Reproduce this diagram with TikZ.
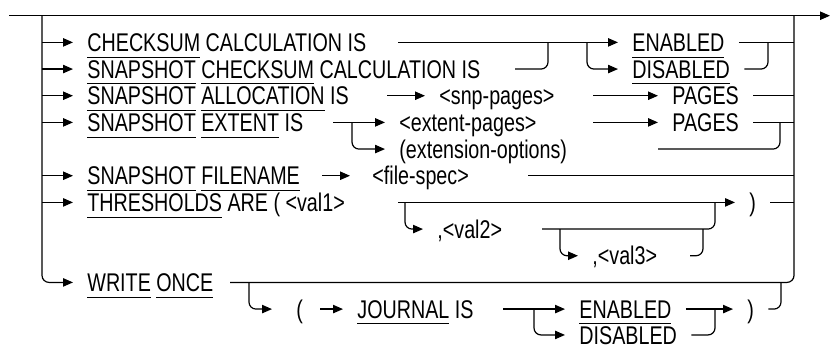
\documentclass[tikz,border=0pt]{standalone}
\usepackage{fontspec}
\setmainfont[FakeStretch=0.77]{Liberation Sans}
\usetikzlibrary{arrows.meta, positioning}
% keyword with a low underline
\newcommand{\kw}[1]{\setbox0\hbox{#1}\rlap{\rule[-3.1pt]{\wd0}{0.5pt}}\box0\relax}
\tikzset{
  tok/.style={inner xsep=7pt, inner ysep=0pt, text height=9.15pt, text depth=0pt, anchor=west},
  rail/.style={line width=0.6pt, rounded corners=3.5pt},
  >={Triangle[length=5pt,width=4.2pt]}
}

\begin{document}
\begin{tikzpicture}[x=0.5pt, y=-13.335pt, font=\fontsize{12.8}{14}\selectfont]
	\useasboundingbox (0,-0.589) rectangle (830,12.423);
	% outer line and the two verticals
	\coordinate (start) at (9,0);
	\coordinate (lv) at (42,0);
	\coordinate (rv) at (794,0);
	\coordinate (end) at (830,0);
	\draw [rail,->] (start) -- (end);

	% left column
	\node [tok] (t1) at (73,1) {\kw{CHECKSUM} CALCULATION IS};
	\node [tok] (t2) at (73,2) {\kw{SNAPSHOT} \kw{CHECKSUM} CALCULATION IS};
	\node [tok] (t3) at (73,3) {\kw{SNAPSHOT} \kw{ALLOCATION} IS};
	\node [tok] (t4) at (73,4) {\kw{SNAPSHOT} \kw{EXTENT} IS};
	\node [tok] (t6) at (73,6) {\kw{SNAPSHOT} \kw{FILENAME}};
	\node [tok] (t7) at (73,7) {\kw{THRESHOLDS} ARE ( <val1>};
	\node [tok] (t10) at (73,10) {\kw{WRITE} \kw{ONCE}};
	\foreach \r in {t1,t2,t3,t4,t6,t7}
		\draw [rail,->] (\r.west -| lv) -- (\r.west);
	\draw [rail,->] (lv) |- (t10.west);

	% checksum rows
	\node [tok] (en1) at (618,1) {\kw{ENABLED}};
	\node [tok] (dis1) at (618,2) {\kw{DISABLED}};
	\coordinate (a1) at (398,1);
	\coordinate (s1) at (587,1);
	\coordinate (b2) at (515,2);
	\coordinate (m1) at (548,1);
	\coordinate (m2) at (768,1);
	\draw [rail,->] (a1) -- (en1.west);
	\draw [rail,->] (s1) |- (dis1.west);
	\draw [rail] (b2) -| (m1);
	\draw [rail] (en1.east) -- (en1.east -| rv);
	\draw [rail] (dis1.east) -| (m2);

	% allocation
	\node [tok] (snp) at (425,3) {<snp-pages>};
	\node [tok] (pg3) at (658,3) {PAGES};
	\coordinate (a3) at (387,3);
	\coordinate (b3) at (593,3);
	\draw [rail,->] (a3) -- (snp.west);
	\draw [rail,->] (b3) -- (pg3.west);
	\draw [rail] (pg3.east) -- (pg3.east -| rv);

	% extent
	\node [tok] (ext) at (385,4) {<extent-pages>};
	\node [tok] (opt) at (385,5) {(extension-options)};
	\node [tok] (pg4) at (658,4) {PAGES};
	\coordinate (a4) at (333,4);
	\coordinate (s4) at (352,4);
	\coordinate (b4) at (593,4);
	\coordinate (b5) at (658,5);
	\coordinate (m4) at (780,4);
	\draw [rail,->] (a4) -- (ext.west);
	\draw [rail,->] (s4) |- (opt.west);
	\draw [rail,->] (b4) -- (pg4.west);
	\draw [rail] (pg4.east) -- (pg4.east -| rv);
	\draw [rail] (b5) -| (m4);

	% filename
	\node [tok, inner xsep=11pt] (fs) at (350,6) {<file-spec>};
	\coordinate (a6) at (322,6);
	\coordinate (b6) at (528,6);
	\draw [rail,->] (a6) -- (fs.west);
	\draw [rail] (b6) -- (b6 -| rv);

	% thresholds
	\node [tok] (rp7) at (735,7) {)};
	\node [tok] (v2) at (423,8) {,<val2>};
	\node [tok] (v3) at (578,9) {,<val3>};
	\coordinate (a7) at (398,7);
	\coordinate (s7) at (405,7);
	\coordinate (b8) at (542,8);
	\coordinate (m7) at (715,7);
	\coordinate (s8) at (560,8);
	\coordinate (b9) at (690,9);
	\coordinate (m8) at (703,8);
	\draw [rail,->] (a7) -- (rp7.west);
	\draw [rail,->] (s7) |- (v2.west);
	\draw [rail] (b8) -| (m7);
	\draw [rail,->] (s8) |- (v3.west);
	\draw [rail] (b9) -| (m8);
	\draw [rail] (rp7.east) -- (rp7.east -| rv);

	% write once
	\coordinate (a10) at (230,10);
	\draw [rail] (a10) -| (rv);
	\node [tok, inner xsep=12pt] (lp) at (272,11) {(};
	\node [tok] (jr) at (343,11) {\kw{JOURNAL} IS};
	\node [tok] (en2) at (565,11) {\kw{ENABLED}};
	\node [tok] (dis2) at (565,11.97) {DISABLED};
	\node [tok] (rp11) at (733,11) {)};
	\coordinate (s10) at (249,10);
	\coordinate (a11) at (320,11);
	\coordinate (b11) at (503,11);
	\coordinate (s11) at (534,11);
	\coordinate (m11) at (715,11);
	\coordinate (m10) at (781,10);
	\draw [rail,->] (s10) |- (lp.west);
	\draw [rail,->] (a11) -- (jr.west);
	\draw [rail,->] (b11) -- (en2.west);
	\draw [rail,->] (s11) |- (dis2.west);
	\draw [rail,->] (en2.east) -- (rp11.west);
	\draw [rail] (dis2.east) -| (m11);
	\draw [rail] (rp11.east) -| (m10);
\end{tikzpicture}
\end{document}
